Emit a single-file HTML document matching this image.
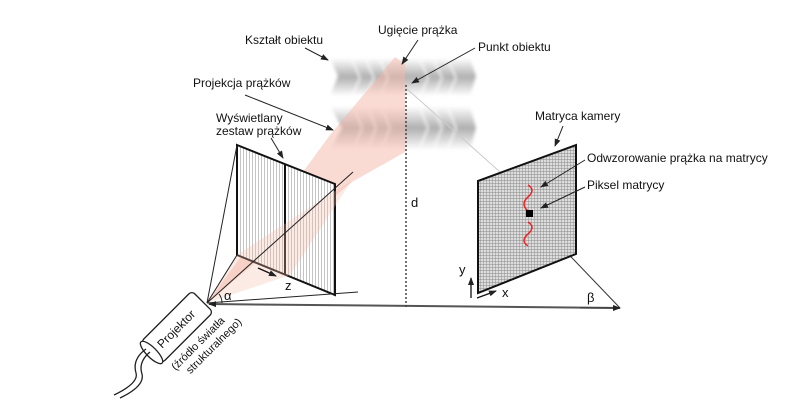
<!DOCTYPE html>
<html><head><meta charset="utf-8"><style>
body{margin:0;background:#fff;width:800px;height:400px;overflow:hidden}
text{font-family:"Liberation Sans",sans-serif;font-size:12px;fill:#111}
</style></head><body>
<svg width="800" height="400" viewBox="0 0 800 400" xmlns="http://www.w3.org/2000/svg">
<defs>
<linearGradient id="band" x1="0" y1="0" x2="0" y2="1">
<stop offset="0" stop-color="#fff"/><stop offset="0.5" stop-color="#b0b0b0"/><stop offset="1" stop-color="#fff"/>
</linearGradient>
<filter id="bl" x="-10%" y="-20%" width="120%" height="140%"><feGaussianBlur stdDeviation="1.5"/></filter>
<pattern id="vs" width="3" height="10" patternUnits="userSpaceOnUse"><rect width="3" height="10" fill="#fff"/><rect width="1" height="10" fill="#c4c4c4"/></pattern>
<pattern id="grid" width="3" height="3" patternUnits="userSpaceOnUse"><rect width="3" height="3" fill="#ddd"/><path d="M0 0H3M0 0V3" stroke="#888" stroke-width="0.9"/></pattern>
<marker id="ah" markerWidth="8" markerHeight="8" refX="7" refY="4" orient="auto" markerUnits="userSpaceOnUse"><path d="M0 1L8 4L0 7z" fill="#222"/></marker>
</defs>
<!-- object bands -->
<g filter="url(#bl)">
<path d="M330 58 H470 L476 76 L470 96 H330 L338 76z" fill="url(#band)"/>
<path d="M330 106 H470 L476 128 L470 150 H330 L342 128z" fill="url(#band)"/>
<g stroke="#fff" stroke-width="2" fill="none" opacity="0.7">
<path d="M352 60l8 18-8 18M366 60l8 18-8 18M380 60l8 18-8 18M420 60l8 18-8 18M434 60l8 18-8 18M448 60l8 18-8 18"/>
<path d="M354 108l8 20-8 20M368 108l8 20-8 20M382 108l8 20-8 20M420 108l8 20-8 20M434 108l8 20-8 20M448 108l8 20-8 20"/>
</g>
</g>
<!-- pink beam -->
<polygon points="207,303 330,135 395,57 405,64 405,152 352,182" fill="#f5b8a8" opacity="0.5"/>
<!-- screen -->
<polygon points="237,145 335,184 335,295 237,255" fill="url(#vs)" stroke="#111" stroke-width="2"/>
<line x1="285" y1="164" x2="285" y2="274" stroke="#111" stroke-width="2"/>
<polygon points="207,303 237,255 352,180 290,275" fill="#f5b8a8" opacity="0.3"/>
<!-- projector lines -->
<g stroke="#222" stroke-width="1" fill="none">
<line x1="207" y1="303" x2="237" y2="145"/>
<line x1="207" y1="303" x2="237" y2="255"/>
<line x1="207" y1="303" x2="353" y2="172"/>
<line x1="207" y1="303" x2="358" y2="292"/>
<path d="M222 303 A15 15 0 0 0 219 294"/>
</g>
<line x1="258" y1="268" x2="276" y2="276" stroke="#111" stroke-width="1.3" marker-end="url(#ah)"/>
<!-- baseline -->
<line x1="620" y1="308" x2="209" y2="304" stroke="#555" stroke-width="2" marker-end="url(#ah)"/>
<line x1="580" y1="308" x2="620" y2="308" stroke="#333" stroke-width="1" marker-end="url(#ah)"/>
<line x1="620" y1="308" x2="530" y2="214" stroke="#333" stroke-width="1"/>
<line x1="406" y1="85" x2="406" y2="308" stroke="#444" stroke-width="1.5" stroke-dasharray="2,2"/>
<line x1="406" y1="88" x2="500" y2="172" stroke="#ccc" stroke-width="1"/>
<!-- camera -->
<polygon points="478,181 576,145 576,254 478,293" fill="url(#grid)" stroke="#111" stroke-width="2"/>
<path d="M528 185 q8 5 0 12 q-8 7 0 14 M528 222 q8 5 0 12 q-8 7 0 12" stroke="#e22" stroke-width="1.5" fill="none"/>
<rect x="526" y="210" width="7" height="7" fill="#000"/>
<line x1="471" y1="298" x2="471" y2="278" stroke="#111" stroke-width="1.3" marker-end="url(#ah)"/>
<line x1="477" y1="298" x2="496" y2="291" stroke="#111" stroke-width="1.3" marker-end="url(#ah)"/>
<!-- label arrows -->
<g stroke="#222" stroke-width="1" marker-end="url(#ah)">
<line x1="305" y1="48" x2="328" y2="60"/>
<line x1="418" y1="40" x2="402" y2="64"/>
<line x1="475" y1="48" x2="412" y2="83"/>
<line x1="245" y1="95" x2="333" y2="130"/>
<line x1="271" y1="138" x2="283" y2="158"/>
<line x1="563" y1="126" x2="555" y2="146"/>
<line x1="585" y1="160" x2="541" y2="187"/>
<line x1="585" y1="187" x2="541" y2="208"/>
</g>
<!-- projector -->
<g transform="translate(177,327) rotate(-45)">
<rect x="-36" y="-15" width="72" height="30" rx="4" fill="#fff" stroke="#222" stroke-width="1.3"/>
<ellipse cx="-36" cy="0" rx="5" ry="15" fill="#fff" stroke="#222" stroke-width="1.3"/>
<text x="-26" y="5" style="font-size:12px">Projektor</text>
<text x="-32" y="30" style="font-size:11px">(źródło światła</text>
<text x="-24" y="43" style="font-size:11px">strukturalnego)</text>
</g>
<path d="M150 352 q-12 10 -8 22 q3 12 -22 24 M146 349 q-14 10 -10 24 q3 10 -22 22" stroke="#222" stroke-width="1.3" fill="none"/>
<!-- text -->
<text x="245" y="44">Kształt obiektu</text>
<text x="378" y="34">Ugięcie prążka</text>
<text x="478" y="51">Punkt obiektu</text>
<text x="193" y="87">Projekcja prążków</text>
<text x="216" y="122">Wyświetlany</text>
<text x="216" y="135">zestaw prążków</text>
<text x="535" y="120">Matryca kamery</text>
<text x="587" y="162">Odwzorowanie  prążka na matrycy</text>
<text x="587" y="189">Piksel matrycy</text>
<text x="411" y="207" style="font-size:13px">d</text>
<text x="224" y="300" style="font-size:13px">α</text>
<text x="285" y="290" style="font-size:13px">z</text>
<text x="587" y="302" style="font-size:13px">β</text>
<text x="459" y="274" style="font-size:13px">y</text>
<text x="502" y="297" style="font-size:13px">x</text>
</svg>
</body></html>
